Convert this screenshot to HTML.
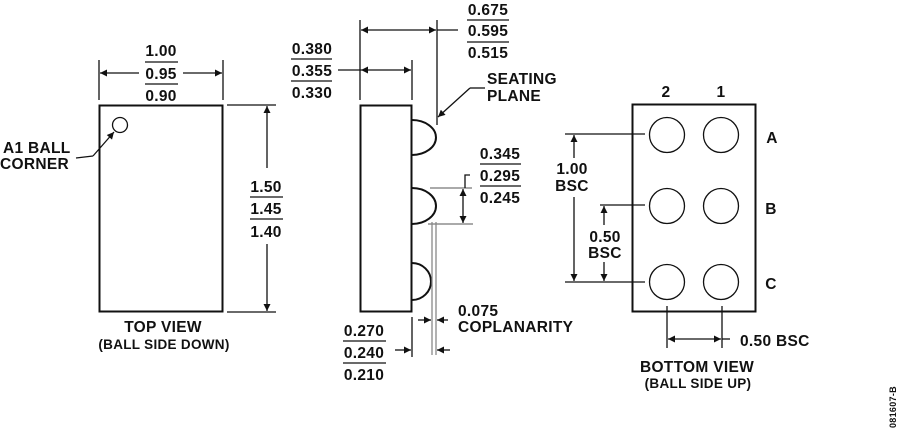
<!DOCTYPE html>
<html><head><meta charset="utf-8"><style>
html,body{margin:0;padding:0;background:#fff;}
svg{display:block;}
text{font-family:"Liberation Sans",Arial,sans-serif;font-weight:bold;fill:#111;letter-spacing:0.3px;}
</style></head><body>
<svg width="900" height="428" viewBox="0 0 900 428" xmlns="http://www.w3.org/2000/svg">
<defs>
<marker id="a" viewBox="0 0 10 10" refX="10" refY="5" markerWidth="9" markerHeight="7" orient="auto-start-reverse" markerUnits="userSpaceOnUse"><path d="M0,0 L10,5 L0,10 z" fill="#111"/></marker>
</defs>
<g stroke="#111" stroke-width="1.3" fill="none">
<!-- TOP VIEW -->
<rect x="99.5" y="105.5" width="123" height="206" stroke-width="2"/>
<circle cx="120" cy="125" r="7.5"/>
<line x1="99" y1="60" x2="99" y2="100"/>
<line x1="223" y1="60" x2="223" y2="100"/>
<line x1="139" y1="73" x2="100" y2="73" marker-end="url(#a)"/>
<line x1="183" y1="73" x2="222" y2="73" marker-end="url(#a)"/>
<line x1="227" y1="105" x2="276" y2="105"/>
<line x1="227" y1="312" x2="276" y2="312"/>
<line x1="267" y1="168" x2="267" y2="106" marker-end="url(#a)"/>
<line x1="267" y1="244" x2="267" y2="311" marker-end="url(#a)"/>
<polyline points="76,158 93,156"/>
<line x1="93" y1="156" x2="114" y2="132" marker-end="url(#a)"/>
<line x1="145" y1="62" x2="178" y2="62"/>
<line x1="145" y1="84" x2="178" y2="84"/>
<line x1="250" y1="197" x2="283" y2="197"/>
<line x1="250" y1="219" x2="283" y2="219"/>
<!-- SIDE VIEW -->
<rect x="360.5" y="105.5" width="51" height="206" stroke-width="2"/>
<path d="M412,120 A24,17.5 0 0 1 412,155" stroke-width="2"/>
<path d="M412,188 A24,18 0 0 1 412,224" stroke-width="2"/>
<path d="M412,263 A19,18.5 0 0 1 412,300" stroke-width="2"/>
<line x1="360" y1="20" x2="360" y2="100"/>
<line x1="437" y1="20" x2="437" y2="125"/>
<line x1="398" y1="30" x2="361" y2="30" marker-end="url(#a)"/>
<line x1="398" y1="30" x2="436" y2="30" marker-end="url(#a)"/>
<line x1="437" y1="30" x2="458" y2="30"/>
<line x1="412" y1="60" x2="412" y2="100"/>
<line x1="338" y1="70" x2="361" y2="70"/>
<line x1="385" y1="70" x2="361" y2="70" marker-end="url(#a)"/>
<line x1="385" y1="70" x2="411" y2="70" marker-end="url(#a)"/>
<line x1="291" y1="59" x2="332" y2="59"/>
<line x1="291" y1="81" x2="332" y2="81"/>
<line x1="467" y1="20" x2="509" y2="20"/>
<line x1="467" y1="42" x2="509" y2="42"/>
<polyline points="485,88 470,88"/>
<line x1="470" y1="88" x2="438" y2="117" marker-end="url(#a)"/>
<line x1="430" y1="188" x2="472" y2="188" stroke="#777"/>
<line x1="428" y1="224" x2="473" y2="224" stroke="#777"/>
<line x1="463" y1="206" x2="463" y2="189" marker-end="url(#a)"/>
<line x1="463" y1="206" x2="463" y2="223" marker-end="url(#a)"/>
<polyline points="465,188 465,175 470,175"/>
<line x1="480" y1="164" x2="521" y2="164"/>
<line x1="480" y1="186" x2="521" y2="186"/>
<line x1="432" y1="222" x2="432" y2="355" stroke="#888"/>
<line x1="436" y1="222" x2="436" y2="355" stroke="#888"/>
<line x1="412" y1="317" x2="412" y2="357"/>
<line x1="418" y1="320" x2="431" y2="320" marker-end="url(#a)"/>
<line x1="448" y1="320" x2="437" y2="320" marker-end="url(#a)"/>
<line x1="395" y1="350" x2="411" y2="350" marker-end="url(#a)"/>
<line x1="450" y1="350" x2="437" y2="350" marker-end="url(#a)"/>
<line x1="343" y1="341" x2="386" y2="341"/>
<line x1="343" y1="363" x2="386" y2="363"/>
<!-- BOTTOM VIEW -->
<rect x="632.5" y="104.5" width="123" height="207" stroke-width="2"/>
<circle cx="667" cy="135" r="17.5"/>
<circle cx="721" cy="135" r="17.5"/>
<circle cx="667" cy="206" r="17.5"/>
<circle cx="721" cy="206" r="17.5"/>
<circle cx="667" cy="282" r="17.5"/>
<circle cx="721" cy="282" r="17.5"/>
<line x1="565" y1="134" x2="645" y2="134"/>
<line x1="565" y1="282" x2="645" y2="282"/>
<line x1="600" y1="205" x2="645" y2="205"/>
<line x1="574" y1="158" x2="574" y2="135" marker-end="url(#a)"/>
<line x1="574" y1="197" x2="574" y2="281" marker-end="url(#a)"/>
<line x1="604" y1="225" x2="604" y2="206" marker-end="url(#a)"/>
<line x1="604" y1="262" x2="604" y2="281" marker-end="url(#a)"/>
<line x1="667" y1="306" x2="667" y2="348"/>
<line x1="722" y1="306" x2="722" y2="348"/>
<line x1="694" y1="339" x2="668" y2="339" marker-end="url(#a)"/>
<line x1="694" y1="339" x2="721" y2="339" marker-end="url(#a)"/>
<line x1="722" y1="339" x2="730" y2="339"/>
</g>
<g font-size="15.5">
<text x="161" y="56" text-anchor="middle">1.00</text>
<text x="161" y="79" text-anchor="middle">0.95</text>
<text x="161" y="101" text-anchor="middle">0.90</text>
<text x="266" y="192" text-anchor="middle">1.50</text>
<text x="266" y="214" text-anchor="middle">1.45</text>
<text x="266" y="237" text-anchor="middle">1.40</text>
<text x="3" y="153">A1 BALL</text>
<text x="0" y="169">CORNER</text>
<text x="163" y="332" text-anchor="middle">TOP VIEW</text>
<text x="164" y="349" text-anchor="middle" font-size="13.5">(BALL SIDE DOWN)</text>
<text x="312" y="54" text-anchor="middle">0.380</text>
<text x="312" y="76" text-anchor="middle">0.355</text>
<text x="312" y="98" text-anchor="middle">0.330</text>
<text x="488" y="15" text-anchor="middle">0.675</text>
<text x="488" y="36" text-anchor="middle">0.595</text>
<text x="488" y="58" text-anchor="middle">0.515</text>
<text x="487" y="84">SEATING</text>
<text x="487" y="101">PLANE</text>
<text x="500" y="159" text-anchor="middle">0.345</text>
<text x="500" y="181" text-anchor="middle">0.295</text>
<text x="500" y="203" text-anchor="middle">0.245</text>
<text x="458" y="316">0.075</text>
<text x="458" y="332">COPLANARITY</text>
<text x="364" y="336" text-anchor="middle">0.270</text>
<text x="364" y="358" text-anchor="middle">0.240</text>
<text x="364" y="380" text-anchor="middle">0.210</text>
<text x="666" y="97" text-anchor="middle">2</text>
<text x="721" y="97" text-anchor="middle">1</text>
<text x="772" y="143" text-anchor="middle">A</text>
<text x="771" y="214" text-anchor="middle">B</text>
<text x="771" y="289" text-anchor="middle">C</text>
<text x="572" y="174" text-anchor="middle">1.00</text>
<text x="572" y="191" text-anchor="middle">BSC</text>
<text x="605" y="242" text-anchor="middle">0.50</text>
<text x="605" y="258" text-anchor="middle">BSC</text>
<text x="740" y="346">0.50 BSC</text>
<text x="697" y="372" text-anchor="middle">BOTTOM VIEW</text>
<text x="698" y="388" text-anchor="middle" font-size="13.5">(BALL SIDE UP)</text>
<text x="0" y="0" font-size="9" font-weight="normal" transform="translate(896,428) rotate(-90)">081607-B</text>
</g>
</svg>
</body></html>
